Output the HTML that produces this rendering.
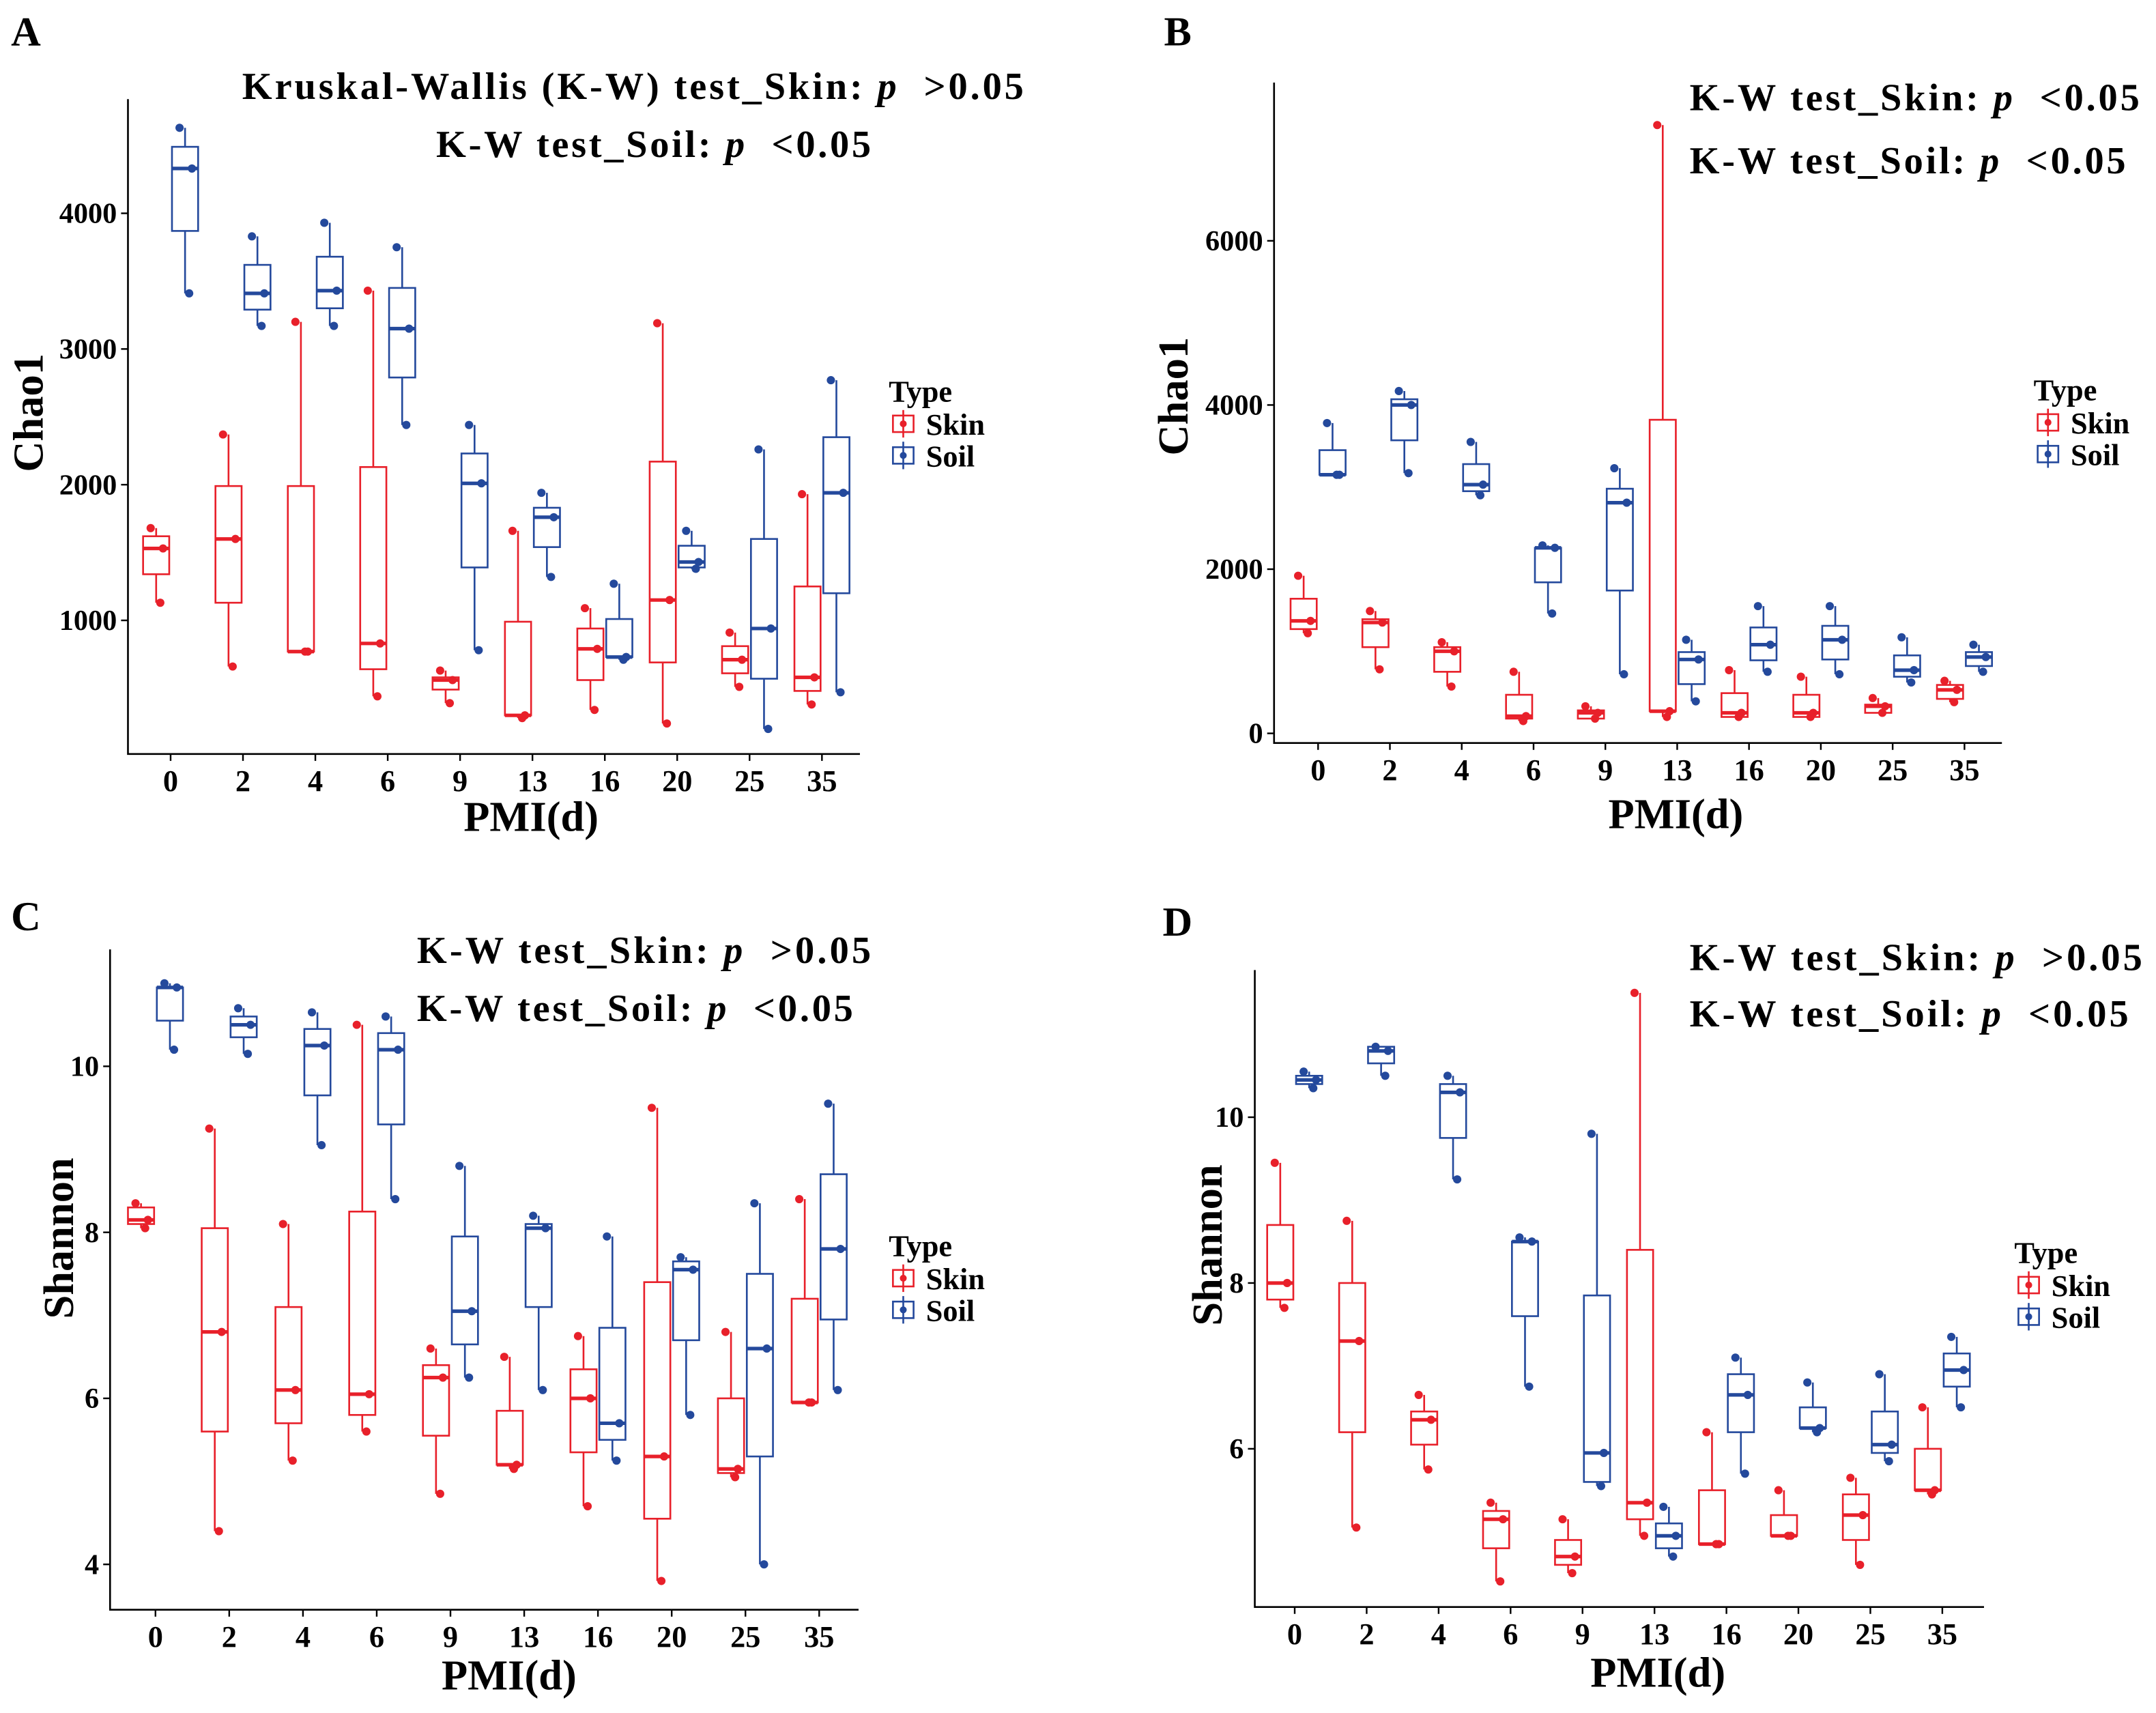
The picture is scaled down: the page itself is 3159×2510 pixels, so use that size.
<!DOCTYPE html>
<html><head><meta charset="utf-8">
<style>
html,body{margin:0;padding:0;background:#fff}
svg{display:block}
text{font-family:"Liberation Serif",serif;font-weight:bold;fill:#000}
</style></head>
<body>
<svg id="fig" width="3159" height="2510" viewBox="0 0 1567 1245" xmlns="http://www.w3.org/2000/svg"></svg>
<script>
const cats = ["0","2","4","6","9","13","16","20","25","35"];
// [q1, median, q3, whiskerLow, whiskerHigh]
const aSkin = [[1340,1530,1620,1130,1680],[1130,1600,1990,660,2370],[770,770,1990,770,3200],[640,830,2130,440,3430],[490,560,580,390,630],[300,300,990,280,1660],[560,790,940,340,1090],[690,1150,2170,240,3190],[610,710,810,510,910],[480,580,1250,380,1930]];
const aSoil = [[3870,4330,4490,3410,4630],[3290,3410,3620,3170,3830],[3300,3430,3680,3170,3930],[2790,3150,3450,2440,3750],[1390,2010,2230,780,2440],[1540,1760,1830,1320,1940],[730,730,1010,710,1270],[1390,1430,1550,1380,1660],[570,940,1600,200,2260],[1200,1940,2350,470,2770]];
const bSkin = [[1270,1370,1640,1220,1920],[1050,1350,1390,780,1490],[750,1000,1050,570,1110],[180,210,470,150,750],[180,250,280,180,330],[270,270,3820,200,7410],[200,250,490,200,770],[200,250,470,200,690],[250,330,350,250,430],[420,530,590,380,640]];
const bSoil = [[3150,3150,3450,3150,3780],[3570,4000,4070,3170,4170],[2950,3030,3280,2900,3550],[1840,2260,2260,1460,2290],[1740,2810,2980,720,3230],[600,900,990,390,1140],[890,1080,1290,750,1550],[900,1140,1310,720,1550],[690,770,950,620,1170],[820,930,990,750,1080]];
const cSkin = [[8.1,8.15,8.3,8.05,8.35],[5.6,6.8,8.05,4.4,9.25],[5.7,6.1,7.1,5.25,8.1],[5.8,6.05,8.25,5.6,10.5],[5.55,6.25,6.4,4.85,6.6],[5.2,5.2,5.85,5.15,6.5],[5.35,6.0,6.35,4.7,6.75],[4.55,5.3,7.4,3.8,9.5],[5.1,5.15,6.0,5.05,6.8],[5.95,5.95,7.2,5.95,8.4]];
const cSoil = [[10.55,10.95,10.95,10.2,11.0],[10.35,10.5,10.6,10.15,10.7],[9.65,10.25,10.45,9.05,10.65],[9.3,10.2,10.4,8.4,10.6],[6.65,7.05,7.95,6.25,8.8],[7.1,8.05,8.1,6.1,8.2],[5.5,5.7,6.85,5.25,7.95],[6.7,7.55,7.65,5.8,7.7],[5.3,6.6,7.5,4.0,8.35],[6.95,7.8,8.7,6.1,9.55]];
const dSkin = [[7.8,8.0,8.7,7.7,9.45],[6.2,7.3,8.0,5.05,8.75],[6.05,6.35,6.45,5.75,6.65],[4.8,5.15,5.25,4.4,5.35],[4.6,4.7,4.9,4.5,5.15],[5.15,5.35,8.4,4.95,11.5],[4.85,4.85,5.5,4.85,6.2],[4.95,4.95,5.2,4.95,5.5],[4.9,5.2,5.45,4.6,5.65],[5.5,5.5,6.0,5.45,6.5]];
const dSoil = [[10.4,10.45,10.5,10.35,10.55],[10.65,10.8,10.85,10.5,10.85],[9.75,10.3,10.4,9.25,10.5],[7.6,8.5,8.5,6.75,8.55],[5.6,5.95,7.85,5.55,9.8],[4.8,4.95,5.1,4.7,5.3],[6.2,6.65,6.9,5.7,7.1],[6.25,6.25,6.5,6.2,6.8],[5.95,6.05,6.45,5.85,6.9],[6.75,6.95,7.15,6.5,7.35]];
const aTicks = [1000,2000,3000,4000];
const bTicks = [0,2000,4000,6000];
const cTicks = [4,6,8,10];
const dTicks = [6,8,10];

const NS="http://www.w3.org/2000/svg";
const svg=document.getElementById('fig');
const RED="#e8202a", BLUE="#24499c";
function mk(tag,attrs,parent){const e=document.createElementNS(NS,tag);for(const k in attrs)e.setAttribute(k,attrs[k]);(parent||svg).appendChild(e);return e;}
function txt(s,x,y,size,anchor,parent){const t=mk('text',{x:x,y:y,'font-size':size,'text-anchor':anchor||'start'},parent);t.textContent=s;return t;}

function panel(cfg){
  const g=mk('g',{});
  
  
  const yS=v=>cfg.y0px+(v-cfg.v0)*(cfg.y1px-cfg.y0px)/(cfg.v1-cfg.v0);
  const xS=i=>cfg.x0+i*cfg.dx;
  const ax=mk('path',{d:`M${cfg.axX},${cfg.top}V${cfg.bot}H${cfg.right}`,stroke:'#000','stroke-width':1.3,fill:'none'},g);
  
  
  cfg.ticks.forEach(v=>{
    const y=yS(v);
    mk('line',{x1:cfg.axX-5,x2:cfg.axX,y1:y,y2:y,stroke:'#000','stroke-width':1.2},g);
    const t=txt(String(v),cfg.axX-8,y+7,21,'end',g);
    
    
  });
  cats.forEach((c,i)=>{
    const x=xS(i);
    mk('line',{x1:x,x2:x,y1:cfg.bot,y2:cfg.bot+5,stroke:'#000','stroke-width':1.2},g);
    const t=txt(c,x,cfg.bot+27,22,'middle',g);
    
    
  });
  const series=[[cfg.skin,RED,-10.5,'skin'],[cfg.soil,BLUE,10.5,'soil']];
  series.forEach(([data,col,off,nm])=>{
    data.forEach((d,i)=>{
      const cx=xS(i)+off,w=19;
      const bg=mk('g',{},g);
      
      
      mk('line',{x1:cx,x2:cx,y1:yS(d[3]),y2:yS(d[0]),stroke:col,'stroke-width':1.3},bg);
      mk('line',{x1:cx,x2:cx,y1:yS(d[2]),y2:yS(d[4]),stroke:col,'stroke-width':1.3},bg);
      const yt=yS(d[2]),yb=yS(d[0]);
      mk('rect',{x:cx-w/2,y:Math.min(yt,yb),width:w,height:Math.max(0.5,Math.abs(yb-yt)),fill:'#fff',stroke:col,'stroke-width':1.3},bg);
      mk('line',{x1:cx-w/2,x2:cx+w/2,y1:yS(d[1]),y2:yS(d[1]),stroke:col,'stroke-width':2.6},bg);
      [[d[3],3],[d[1],5],[d[4],-4]].forEach(([v,jx])=>{
        const p=mk('circle',{cx:cx+jx,cy:yS(v),r:3,fill:col},bg);
        
        
      });
    });
  });
  const yl=txt(cfg.yLabel,0,0,31,'middle',g);
  yl.setAttribute('transform',`translate(${cfg.yLabX},${cfg.yLabY}) rotate(-90)`);
  
  
  const xl=txt('PMI(d)',cfg.xLabX,cfg.xLabY,31,'middle',g);
  
  
  const pl=txt(cfg.id.toUpperCase(),cfg.letX,cfg.letY,30,'start',g);
  
  
  cfg.notes.forEach(n=>{
    const t=mk('text',{x:n.x,y:n.y,'font-size':28,textLength:n.w,lengthAdjust:'spacing'},g);
    
    
    t.appendChild(document.createTextNode(n.a));
    const it=mk('tspan',{'font-style':'italic'},t);it.textContent='p';
    t.appendChild(document.createTextNode('\u00a0 '+n.b));
  });
  const lg=mk('g',{},g);
  
  
  txt('Type',cfg.legX,cfg.legY,22,'start',lg);
  [['Skin',RED],['Soil',BLUE]].forEach(([n,col],k)=>{
    const y=cfg.legY+24+k*23;
    const e=mk('g',{},lg);
    
    
    mk('rect',{x:cfg.legX+3,y:y-14,width:15,height:12,fill:'#fff',stroke:col,'stroke-width':1.3},e);
    mk('line',{x1:cfg.legX+10.5,x2:cfg.legX+10.5,y1:y-18,y2:y+2,stroke:col,'stroke-width':1.3},e);
    mk('circle',{cx:cfg.legX+10.5,cy:y-8,r:2.5,fill:col},e);
    const t=mk('text',{x:cfg.legX+27,y:y,'font-size':22,'font-weight':cfg.legBold?'bold':'normal'},e);
    t.textContent=n;
  });
}

panel({id:'a',skin:aSkin,soil:aSoil,ticks:aTicks,v0:0,v1:4000,y0px:549.5,y1px:155,x0:124,dx:52.6,axX:93,top:72,bot:548,right:625,
  yLabel:'Chao1',yLabX:31,yLabY:300,xLabX:386,xLabY:604,letX:8,letY:33,legX:646,legY:292,legBold:true,
  notes:[{x:176,y:72,w:568,a:'Kruskal-Wallis (K-W) test_Skin: ',b:'>0.05'},{x:317,y:114,w:316,a:'K-W test_Soil: ',b:'<0.05'}]});
panel({id:'b',skin:bSkin,soil:bSoil,ticks:bTicks,v0:0,v1:6000,y0px:533,y1px:175,x0:958,dx:52.2,axX:926,top:60,bot:540,right:1455,
  yLabel:'Chao1',yLabX:863,yLabY:288,xLabX:1218,xLabY:602,letX:846,letY:33,legX:1478,legY:291,legBold:false,
  notes:[{x:1228,y:80,w:327,a:'K-W test_Skin: ',b:'<0.05'},{x:1228,y:126,w:317,a:'K-W test_Soil: ',b:'<0.05'}]});
panel({id:'c',skin:cSkin,soil:cSoil,ticks:cTicks,v0:4,v1:10,y0px:1137,y1px:775,x0:113,dx:53.6,axX:80,top:690,bot:1170,right:624,
  yLabel:'Shannon',yLabX:53,yLabY:900,xLabX:370,xLabY:1228,letX:8,letY:676,legX:646,legY:913,legBold:true,
  notes:[{x:303,y:700,w:330,a:'K-W test_Skin: ',b:'>0.05'},{x:303,y:742,w:317,a:'K-W test_Soil: ',b:'<0.05'}]});
panel({id:'d',skin:dSkin,soil:dSoil,ticks:dTicks,v0:6,v1:10,y0px:1053,y1px:812,x0:941,dx:52.3,axX:912,top:705,bot:1168,right:1442,
  yLabel:'Shannon',yLabX:888,yLabY:905,xLabX:1205,xLabY:1226,letX:845,letY:680,legX:1464,legY:918,legBold:true,
  notes:[{x:1228,y:705,w:329,a:'K-W test_Skin: ',b:'>0.05'},{x:1228,y:746,w:319,a:'K-W test_Soil: ',b:'<0.05'}]});
</script>
</body></html>
